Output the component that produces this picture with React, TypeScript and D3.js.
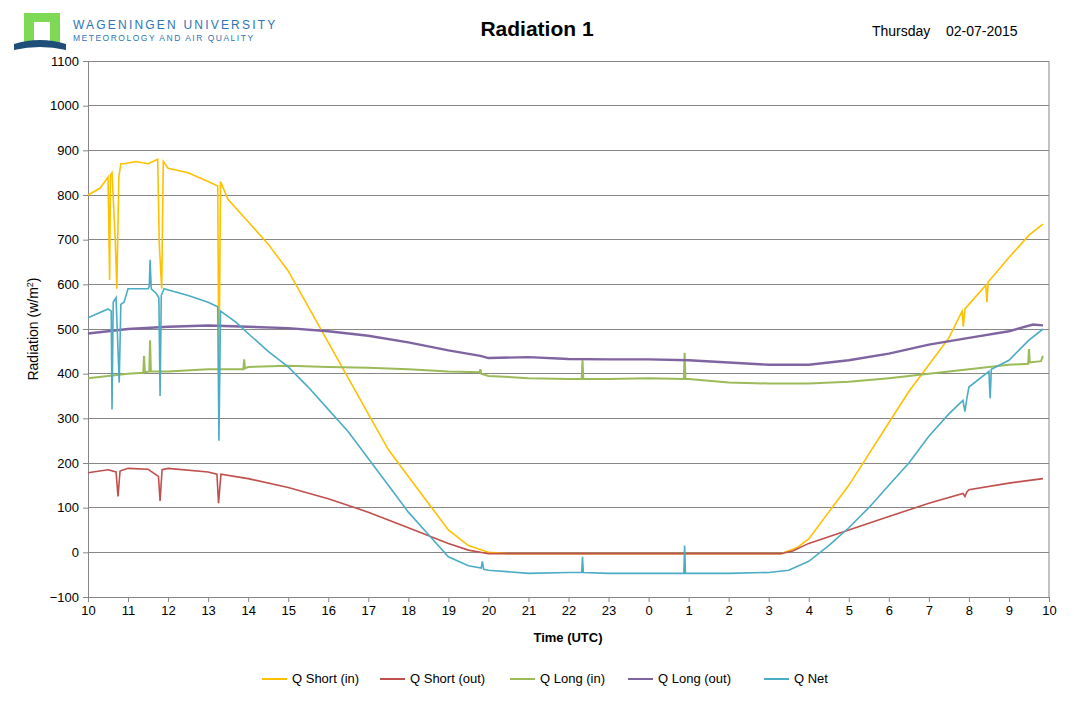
import React, { useEffect, useRef } from "react";
import * as d3 from "d3";

const WIDTH = 1074;
const HEIGHT = 702;
const M = { left: 88, right: 1049, top: 61, bottom: 597 };

// time in hours since 10:00 of day 1 expressed as clock hours (after midnight +24)
const tickHours = d3.range(10, 35);
const tickLabels = tickHours.map((h) => String(h % 24));
const yTicks = d3.range(-100, 1101, 100);

const shortInT = [10, 10.3, 10.5, 10.54, 10.56, 10.6, 10.68, 10.72, 10.77, 10.82, 10.9, 11.2, 11.5, 11.74, 11.78, 11.84, 11.88, 12, 12.5, 13, 13.24, 13.27, 13.31, 13.5, 14, 14.5, 15, 15.5, 16, 16.5, 17, 17.5, 18, 18.5, 19, 19.5, 20, 20.5, 27.3, 27.7, 28, 28.5, 29, 29.5, 30, 30.5, 31, 31.5, 31.83, 31.86, 31.9, 32.42, 32.45, 32.48, 33, 33.5, 33.85];
const shortInV = [800, 815, 840, 610, 845, 850, 700, 590, 840, 870, 870, 875, 870, 880, 690, 590, 875, 860, 850, 830, 820, 390, 830, 790, 740, 690, 630, 550, 470, 390, 310, 230, 170, 110, 50, 15, 0, -3, -3, 10, 30, 90, 150, 220, 290, 360, 420, 480, 540, 505, 545, 598, 560, 605, 660, 710, 735];

const shortOutT = [10, 10.5, 10.7, 10.75, 10.8, 11, 11.5, 11.76, 11.8, 11.85, 12, 13, 13.22, 13.26, 13.32, 14, 15, 16, 17, 18, 19, 19.5, 20, 27.3, 27.6, 28, 29, 30, 31, 31.85, 31.9, 31.95, 32, 33, 33.85];
const shortOutV = [178, 185, 180, 125, 182, 188, 186, 170, 115, 185, 188, 180, 175, 110, 175, 165, 145, 120, 90, 55, 20, 5, -3, -3, 3, 20, 50, 80, 110, 132, 125, 135, 140, 155, 165];

const longInT = [10, 11, 11.38, 11.4, 11.42, 11.53, 11.55, 11.57, 12, 13, 13.88, 13.9, 13.92, 14, 15, 16, 17, 18, 19, 19.78, 19.8, 19.82, 20, 21, 22, 22.33, 22.35, 22.37, 23, 24, 24.88, 24.9, 24.92, 25, 26, 27, 28, 29, 30, 31, 32, 33, 33.48, 33.5, 33.52, 33.8, 33.85];
const longInV = [390, 400, 402, 440, 403, 405, 475, 405, 405, 410, 410, 432, 412, 415, 418, 415, 413, 410, 405, 403, 410, 400, 395, 390, 388, 388, 430, 388, 388, 390, 388, 447, 388, 388, 380, 378, 378, 382, 390, 400, 410, 420, 422, 455, 425, 428, 440];

const longOutT = [10, 11, 12, 13, 14, 15, 16, 17, 18, 19, 19.8, 20, 21, 22, 23, 24, 25, 26, 27, 28, 29, 30, 31, 32, 33, 33.6, 33.85];
const longOutV = [490, 500, 505, 508, 505, 502, 495, 485, 470, 452, 440, 435, 437, 433, 432, 432, 430, 425, 420, 420, 430, 445, 465, 480, 495, 510, 508];

const netT = [10, 10.5, 10.58, 10.6, 10.63, 10.7, 10.78, 10.82, 10.9, 11, 11.5, 11.53, 11.55, 11.58, 11.7, 11.77, 11.8, 11.83, 11.9, 12.5, 13, 13.24, 13.27, 13.31, 13.7, 14, 14.5, 15, 15.5, 16, 16.5, 17, 17.5, 18, 18.5, 19, 19.5, 19.82, 19.85, 19.88, 20, 21, 22, 22.33, 22.35, 22.37, 23, 24, 24.88, 24.9, 24.92, 25, 26, 27, 27.5, 28, 28.5, 29, 29.5, 30, 30.5, 31, 31.5, 31.85, 31.9, 31.95, 32, 32.5, 32.53, 32.56, 33, 33.5, 33.85];
const netV = [525, 545, 540, 320, 560, 570, 380, 555, 560, 590, 590, 595, 655, 590, 580, 570, 350, 575, 590, 575, 560, 550, 250, 540, 515, 490, 450, 415, 370, 320, 270, 210, 150, 90, 40, -10, -30, -35, -20, -38, -40, -47, -45, -45, -10, -45, -47, -47, -47, 15, -47, -47, -47, -45, -40, -20, 15, 55, 100, 150, 200, 260, 310, 340, 315, 345, 370, 405, 345, 410, 430, 475, 500];

const series = [
  { name: "Q Short (in)", color: "#ffc000", t: shortInT, v: shortInV, w: 1.6 },
  { name: "Q Short (out)", color: "#c0504d", t: shortOutT, v: shortOutV, w: 1.6 },
  { name: "Q Long (in)", color: "#9bbb59", t: longInT, v: longInV, w: 2 },
  { name: "Q Long (out)", color: "#8064a2", t: longOutT, v: longOutV, w: 2.4 },
  { name: "Q Net", color: "#4bacc6", t: netT, v: netV, w: 1.6 },
];
const legendX = [262, 380, 510, 628, 764];

export default function App() {
  const ref = useRef<SVGSVGElement>(null);

  useEffect(() => {
    const svg = d3.select(ref.current);
    svg.selectAll("*").remove();
    const font = "Liberation Sans, Arial, sans-serif";
    svg.attr("font-family", font);

    svg.append("rect").attr("x", 0.5).attr("y", 0.5).attr("width", WIDTH - 1).attr("height", HEIGHT - 1)
      .attr("fill", "white").attr("stroke", "#888");

    const x = d3.scaleLinear().domain([10, 34]).range([M.left, M.right]);
    const y = d3.scaleLinear().domain([-100, 1100]).range([M.bottom, M.top]);

    // grid
    svg.append("g").selectAll("line").data(yTicks).enter().append("line")
      .attr("x1", M.left).attr("x2", M.right)
      .attr("y1", (d) => y(d)).attr("y2", (d) => y(d))
      .attr("stroke", "#868686").attr("stroke-width", 1).attr("shape-rendering", "crispEdges");

    const yAxis = svg.append("g").attr("transform", `translate(${M.left},0)`)
      .call(d3.axisLeft(y).tickValues(yTicks).tickSize(5).tickPadding(4).tickFormat(d3.format("d")));
    const xAxis = svg.append("g").attr("transform", `translate(0,${M.bottom})`)
      .call(d3.axisBottom(x).tickValues(tickHours).tickSize(5).tickPadding(4)
        .tickFormat((d, i) => tickLabels[i]));
    [xAxis, yAxis].forEach((a) => {
      a.selectAll("text").attr("font-size", 13).attr("fill", "#000").attr("font-family", font);
      a.selectAll("line,path").attr("stroke", "#868686");
    });
    svg.append("line").attr("x1", M.right).attr("x2", M.right).attr("y1", M.top).attr("y2", M.bottom)
      .attr("stroke", "#868686");

    const line = d3.line<[number, number]>().x((d) => x(d[0])).y((d) => y(d[1]));
    series.forEach((s) => {
      svg.append("path").datum(s.t.map((t, i) => [t, s.v[i]] as [number, number]))
        .attr("d", line).attr("fill", "none").attr("stroke", s.color).attr("stroke-width", s.w);
    });

    // titles
    svg.append("text").attr("x", 537).attr("y", 36).attr("text-anchor", "middle")
      .attr("font-size", 21).attr("font-weight", "bold").text("Radiation 1");
    svg.append("text").attr("x", 872).attr("y", 36).attr("font-size", 14).text("Thursday");
    svg.append("text").attr("x", 946).attr("y", 36).attr("font-size", 14).text("02-07-2015");
    svg.append("text").attr("x", 568).attr("y", 642).attr("text-anchor", "middle")
      .attr("font-size", 13).attr("font-weight", "bold").text("Time (UTC)");
    const yt = svg.append("text").attr("transform", `translate(38,${y(500)}) rotate(-90)`)
      .attr("text-anchor", "middle").attr("font-size", 14);
    yt.append("tspan").text("Radiation (w/m");
    yt.append("tspan").attr("font-size", 9).attr("dy", -5).text("2");
    yt.append("tspan").attr("dy", 5).text(")");

    // logo
    svg.append("rect").attr("x", 24).attr("y", 13).attr("width", 36).attr("height", 30).attr("fill", "#7ed957");
    svg.append("rect").attr("x", 34).attr("y", 22).attr("width", 16).attr("height", 21).attr("fill", "white");
    svg.append("path").attr("d", "M14,44 Q40,36 66,44 L66,50 Q40,44 14,50 Z").attr("fill", "#1f4e79");
    svg.append("text").attr("x", 73).attr("y", 29).attr("font-size", 12).attr("letter-spacing", 2.2)
      .attr("fill", "#2e75b6").text("WAGENINGEN UNIVERSITY");
    svg.append("text").attr("x", 73).attr("y", 41).attr("font-size", 8.5).attr("letter-spacing", 1.5)
      .attr("fill", "#2e75b6").text("METEOROLOGY AND AIR QUALITY");

    // legend
    series.forEach((s, i) => {
      const lx = legendX[i];
      svg.append("line").attr("x1", lx).attr("x2", lx + 25).attr("y1", 679).attr("y2", 679)
        .attr("stroke", s.color).attr("stroke-width", 2);
      svg.append("text").attr("x", lx + 30).attr("y", 683).attr("font-size", 13).text(s.name);
    });
  }, []);

  return <svg ref={ref} width={WIDTH} height={HEIGHT} style={{ display: "block", margin: -8 }} />;
}
